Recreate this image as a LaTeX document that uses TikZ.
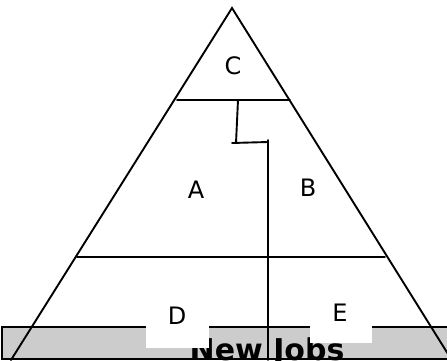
\documentclass[tikz,border=0pt]{standalone}
\usepackage{fontspec}
\setmainfont{DejaVu Sans}
\begin{document}
\begin{tikzpicture}[x=1pt,y=-1pt,
  ln/.style={line width=1.9pt, line cap=round},
  lbl/.style={font=\fontsize{24}{28}\selectfont, inner sep=0pt},
  wbox/.style={fill=white, draw=none}]
\useasboundingbox (0,0) rectangle (447,360);
\clip (0,0) rectangle (447,360);
% band
\fill[black!20] (2,327) rectangle (460,359);
\draw[line width=1.9pt] (2,327) -- (460,327) (2,359) -- (460,359) (2,326) -- (2,360);
\node[anchor=base, inner sep=0pt, font=\bfseries\fontsize{30}{34}\selectfont] (jobs) at (267,360) {New Jobs};
% white boxes
\fill[wbox] (146,296) rectangle (209,348);
\fill[wbox] (310,290) rectangle (372,343);
% triangle
\coordinate (apex) at (232,8);
\coordinate (bl) at (11,360);
\coordinate (br) at (458,370);
\draw[ln] (bl) -- (apex) -- (br);
\coordinate (t1) at (177,100);
\coordinate (t2) at (290,100);
\draw[ln] (t1) -- (t2);
\coordinate (m1) at (77,257);
\coordinate (m2) at (385,257);
\draw[ln] (m1) -- (m2);
% connector
\coordinate (c0) at (238,100);
\coordinate (c1) at (236,143);
\coordinate (c2) at (232,143);
\coordinate (c3) at (268,142);
\coordinate (c4) at (268,140);
\coordinate (c5) at (268,360);
\draw[ln] (c0) -- (c1);
\draw[ln] (c2) -- (c3);
\draw[ln] (c4) -- (c5);
% labels
\node[lbl] (C) at (233,66) {C};
\node[lbl] (A) at (196,190) {A};
\node[lbl] (B) at (308,188) {B};
\node[lbl] (D) at (177,316) {D};
\node[lbl] (E) at (340,313) {E};
\end{tikzpicture}
\end{document}
